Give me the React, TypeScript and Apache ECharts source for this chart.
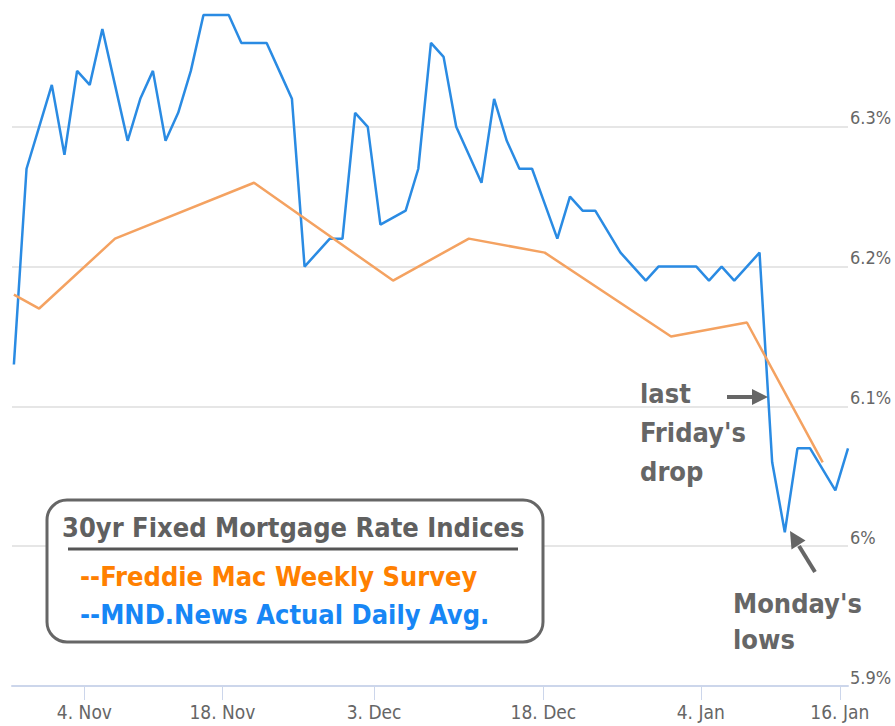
import React, { useEffect, useRef } from "react";
import * as echarts from "echarts";

// Daily index (business days) and values
const mndDaily: number[] = [
  6.13, 6.27, 6.3, 6.33, 6.28, 6.34, 6.33, 6.37, 6.33, 6.29,
  6.32, 6.34, 6.29, 6.31, 6.34, 6.38, 6.38, 6.38, 6.36, 6.36,
  6.36, 6.34, 6.32, 6.2, 6.21, 6.22, 6.22, 6.31, 6.3, 6.23,
  6.235, 6.24, 6.27, 6.36, 6.35, 6.3, 6.28, 6.26, 6.32, 6.29,
  6.27, 6.27, 6.245, 6.22, 6.25, 6.24, 6.24, 6.225, 6.21, 6.2,
  6.19, 6.2, 6.2, 6.2, 6.2, 6.19, 6.2, 6.19, 6.2, 6.21,
  6.06, 6.01, 6.07, 6.07, 6.055, 6.04, 6.07,
];

const freddieIndex: number[] = [0, 2, 8, 19, 30, 36, 42, 52, 58, 64];
const freddieWeekly: number[] = [6.18, 6.17, 6.22, 6.26, 6.19, 6.22, 6.21, 6.15, 6.16, 6.06];

const tickPositions: number[] = [5.58, 16.5, 28.5, 41.9, 54.35, 65.35];
const tickLabels: string[] = ["4. Nov", "18. Nov", "3. Dec", "18. Dec", "4. Jan", "16. Jan"];

const legendTitle = "30yr Fixed Mortgage Rate Indices";
const legendFreddie = "--Freddie Mac Weekly Survey";
const legendMnd = "--MND.News Actual Daily Avg.";

const AXIS_FONT = "'Liberation Sans Narrow', 'DejaVu Sans Condensed', 'Roboto', sans-serif";
const BOLD_FONT = "'DejaVu Sans Condensed', 'DejaVu Sans', sans-serif";

export default function App() {
  const ref = useRef<HTMLDivElement>(null);

  useEffect(() => {
    if (!ref.current) return;
    const chart = echarts.init(ref.current, undefined, { renderer: "svg" });

    const blueData = mndDaily.map((v, i) => [i, v]);
    const orangeData = freddieWeekly.map((v, i) => [freddieIndex[i], v]);

    const gray = "#666666";

    chart.setOption({
      animation: false,
      backgroundColor: "#ffffff",
      grid: {
        left: 12,
        right: 47,
        top: -13,
        bottom: 40,
        containLabel: false,
        outerBoundsMode: "none",
      },
      xAxis: {
        type: "value",
        min: -0.15,
        max: 66,
        axisLine: { show: true, lineStyle: { color: "#ccd6eb", width: 2 } },
        axisTick: {
          show: true,
          length: 14,
          customValues: tickPositions,
          lineStyle: { color: "#ccd6eb", width: 1 },
        },
        axisLabel: {
          customValues: tickPositions,
          margin: 16,
          color: "#666666",
          fontSize: 19,
          fontFamily: AXIS_FONT,
          formatter: (val: number) => {
            let best = 0;
            let d = Infinity;
            tickPositions.forEach((p, i) => {
              const dd = Math.abs(p - val);
              if (dd < d) {
                d = dd;
                best = i;
              }
            });
            return tickLabels[best];
          },
        },
        splitLine: { show: false },
      },
      yAxis: {
        type: "value",
        position: "right",
        min: 5.9,
        max: 6.4,
        interval: 0.1,
        axisLine: { show: false },
        axisTick: { show: false },
        axisLabel: {
          margin: 2,
          verticalAlign: "bottom",
          color: "#666666",
          fontSize: 18,
          fontFamily: AXIS_FONT,
          showMaxLabel: false,
          formatter: (v: number) => (v > 6.35 ? "" : `${parseFloat(v.toFixed(1))}%`),
        },
        splitLine: { show: true, lineStyle: { color: "#e6e6e6", width: 2 } },
      },
      series: [
        {
          type: "line",
          name: "MND",
          data: blueData,
          showSymbol: false,
          symbol: "none",
          lineStyle: { color: "#2a8be3", width: 2.5 },
          z: 2,
        },
        {
          type: "line",
          name: "Freddie",
          data: orangeData,
          showSymbol: false,
          symbol: "none",
          lineStyle: { color: "#f4a261", width: 2.5 },
          z: 3,
        },
      ],
      graphic: [
        {
          type: "rect",
          shape: { x: 47, y: 500, width: 496, height: 142, r: 20 },
          style: { fill: "#ffffff", stroke: "#666666", lineWidth: 3 },
          z: 10,
        },
        {
          type: "text",
          x: 62,
          y: 527,
          style: {
            text: legendTitle,
            fill: "#606060",
            font: `bold 27px ${BOLD_FONT}`,
            verticalAlign: "middle",
          },
          z: 11,
        },
        {
          type: "line",
          shape: { x1: 68, y1: 549, x2: 518, y2: 549 },
          style: { stroke: "#555555", lineWidth: 3 },
          z: 11,
        },
        {
          type: "text",
          x: 80,
          y: 576,
          style: {
            text: legendFreddie,
            fill: "#ff8000",
            font: `bold 27px ${BOLD_FONT}`,
            verticalAlign: "middle",
          },
          z: 11,
        },
        {
          type: "text",
          x: 80,
          y: 614,
          style: {
            text: legendMnd,
            fill: "#1786f5",
            font: `bold 27px ${BOLD_FONT}`,
            verticalAlign: "middle",
          },
          z: 11,
        },
        {
          type: "text",
          x: 640,
          y: 374,
          style: {
            text: "last\nFriday's\ndrop",
            fill: gray,
            font: `bold 27px ${BOLD_FONT}`,
            lineHeight: 39,
            verticalAlign: "top",
          },
          z: 11,
        },
        {
          type: "line",
          shape: { x1: 727, y1: 397, x2: 756, y2: 397 },
          style: { stroke: gray, lineWidth: 4 },
          z: 11,
        },
        {
          type: "polygon",
          shape: { points: [[768, 397], [752, 389], [752, 405]] },
          style: { fill: gray },
          z: 11,
        },
        {
          type: "text",
          x: 733,
          y: 585,
          style: {
            text: "Monday's\nlows",
            fill: gray,
            font: `bold 27px ${BOLD_FONT}`,
            lineHeight: 36,
            verticalAlign: "top",
          },
          z: 11,
        },
        {
          type: "line",
          shape: { x1: 815, y1: 572, x2: 799, y2: 546 },
          style: { stroke: gray, lineWidth: 4 },
          z: 11,
        },
        {
          type: "polygon",
          shape: { points: [[790, 531], [805.5, 540.5], [791.5, 549.5]] },
          style: { fill: gray },
          z: 11,
        },
      ],
    });

    return () => chart.dispose();
  }, []);

  return (
    <div
      ref={ref}
      style={{ position: "absolute", left: 0, top: 0, width: 895, height: 726 }}
    />
  );
}
